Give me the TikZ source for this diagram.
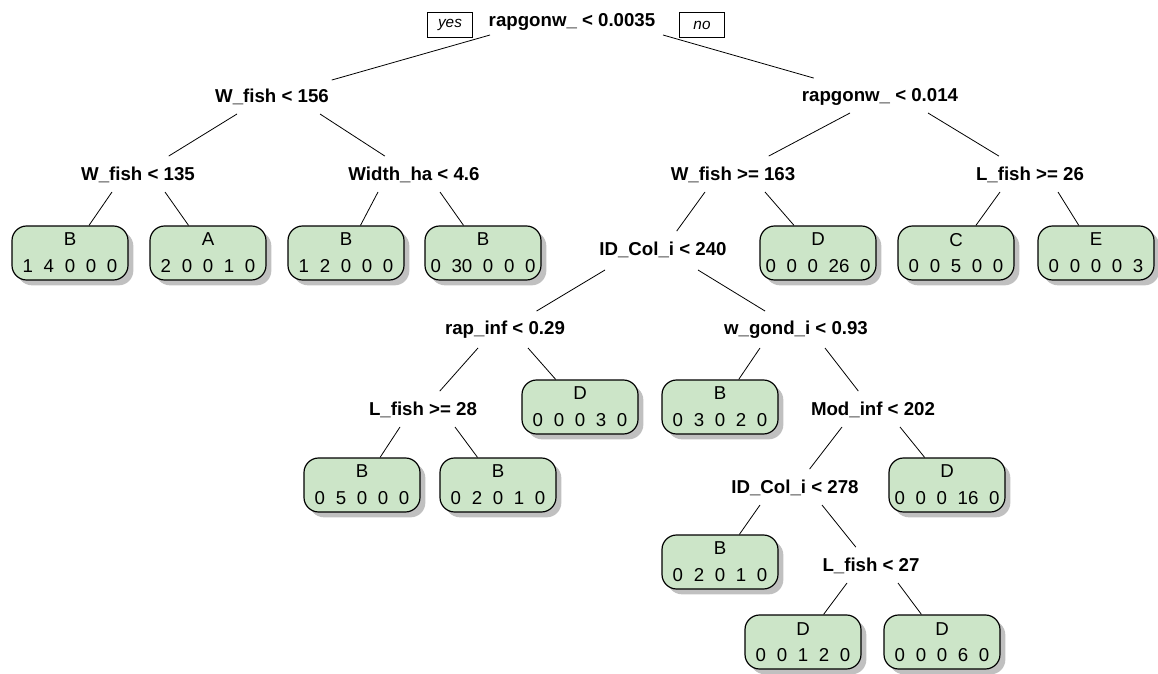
\documentclass[tikz,border=0pt]{standalone}
\usepackage{fontspec}
\setmainfont{Liberation Sans}
\usetikzlibrary{shadows}
\definecolor{leafgreen}{RGB}{204,229,200}
\newcommand\cnts[5]{#1\hspace{8pt}#2\hspace{8pt}#3\hspace{8pt}#4\hspace{8pt}#5}
\begin{document}
\begin{tikzpicture}[x=0.75pt,y=-0.75pt,
  split/.style={font=\bfseries\fontsize{14}{16}\selectfont, inner xsep=2pt, minimum height=28pt},
  leaf/.style={draw=black, line width=0.9pt, fill=leafgreen, rounded corners=11pt,
    minimum width=87pt, minimum height=40.5pt, inner sep=0pt, align=center,
    font=\fontsize{14}{20}\selectfont,
    drop shadow={shadow xshift=4pt, shadow yshift=-4pt, fill=black!45, opacity=0.55}},
  tag/.style={draw=black, line width=0.7pt, font=\itshape\fontsize{11.5}{13}\selectfont,
    minimum width=34pt, minimum height=19pt, inner sep=0pt},
  edge/.style={draw=black, line width=0.6pt}]
\useasboundingbox (0,0) rectangle (1158,674);

% split nodes
\node[split] (root) at (572,22) {rapgonw\_ < 0.0035};
\node[split] (W156) at (272,97) {W\_fish < 156};
\node[split] (R014) at (880,97) {rapgonw\_ < 0.014};
\node[split] (W135) at (138,175) {W\_fish < 135};
\node[split] (WH) at (414,175) {Width\_ha < 4.6};
\node[split] (W163) at (733,175) {W\_fish >= 163};
\node[split] (L26) at (1030,175) {L\_fish >= 26};
\node[split] (ID240) at (663,250) {ID\_Col\_i < 240};
\node[split] (RAP) at (505,330) {rap\_inf < 0.29};
\node[split] (WG) at (796,330) {w\_gond\_i < 0.93};
\node[split] (L28) at (423,410) {L\_fish >= 28};
\node[split] (MOD) at (873,410) {Mod\_inf < 202};
\node[split] (ID278) at (795,488) {ID\_Col\_i < 278};
\node[split] (L27) at (871,566) {L\_fish < 27};

% yes / no tags
\node[tag] (yes) at (450,25) {yes};
\node[tag] (no) at (702,25) {no};

% leaves
\node[leaf] (l1) at (70,253) {B\\\cnts14000};
\node[leaf] (l2) at (208,253) {A\\\cnts20010};
\node[leaf] (l3) at (346,253) {B\\\cnts12000};
\node[leaf] (l4) at (483,253) {B\\\cnts0{30}000};
\node[leaf] (l5) at (818,253) {D\\\cnts000{26}0};
\node[leaf] (l6) at (956,253) {C\\\cnts00500};
\node[leaf] (l7) at (1096,253) {E\\\cnts00003};
\node[leaf] (l8) at (580,407) {D\\\cnts00030};
\node[leaf] (l9) at (720,407) {B\\\cnts03020};
\node[leaf] (l10) at (362,485) {B\\\cnts05000};
\node[leaf] (l11) at (498,485) {B\\\cnts02010};
\node[leaf] (l12) at (947,485) {D\\\cnts000{16}0};
\node[leaf] (l13) at (720,562) {B\\\cnts02010};
\node[leaf] (l14) at (803,642) {D\\\cnts00120};
\node[leaf] (l15) at (942,642) {D\\\cnts00060};

% connectors
\draw[edge] ([shift={(-82,13)}]root.center) -- (W156);
\draw[edge] ([shift={(91,13)}]root.center) -- (R014);
\draw[edge] ([shift={(-35,17)}]W156.center) -- (W135);
\draw[edge] ([shift={(48,17)}]W156.center) -- (WH);
\draw[edge] ([shift={(-30,16)}]R014.center) -- (W163);
\draw[edge] ([shift={(48,16)}]R014.center) -- (L26);
\draw[edge] ([shift={(-26,17)}]W135.center) -- (l1);
\draw[edge] ([shift={(27,17)}]W135.center) -- (l2);
\draw[edge] ([shift={(-36,17)}]WH.center) -- (l3);
\draw[edge] ([shift={(26,17)}]WH.center) -- (l4);
\draw[edge] ([shift={(-28,17)}]W163.center) -- (ID240);
\draw[edge] ([shift={(32,17)}]W163.center) -- (l5);
\draw[edge] ([shift={(-30,17)}]L26.center) -- (l6);
\draw[edge] ([shift={(28,17)}]L26.center) -- (l7);
\draw[edge] ([shift={(-58,20)}]ID240.center) -- (RAP);
\draw[edge] ([shift={(35,20)}]ID240.center) -- (WG);
\draw[edge] ([shift={(-27,18)}]RAP.center) -- (L28);
\draw[edge] ([shift={(23,18)}]RAP.center) -- (l8);
\draw[edge] ([shift={(-36,18)}]WG.center) -- (l9);
\draw[edge] ([shift={(29,18)}]WG.center) -- (MOD);
\draw[edge] ([shift={(-23,17)}]L28.center) -- (l10);
\draw[edge] ([shift={(32,17)}]L28.center) -- (l11);
\draw[edge] ([shift={(-31,17)}]MOD.center) -- (ID278);
\draw[edge] ([shift={(27,17)}]MOD.center) -- (l12);
\draw[edge] ([shift={(-35,17)}]ID278.center) -- (l13);
\draw[edge] ([shift={(27,17)}]ID278.center) -- (L27);
\draw[edge] ([shift={(-24,17)}]L27.center) -- (l14);
\draw[edge] ([shift={(27,17)}]L27.center) -- (l15);
\end{tikzpicture}
\end{document}
